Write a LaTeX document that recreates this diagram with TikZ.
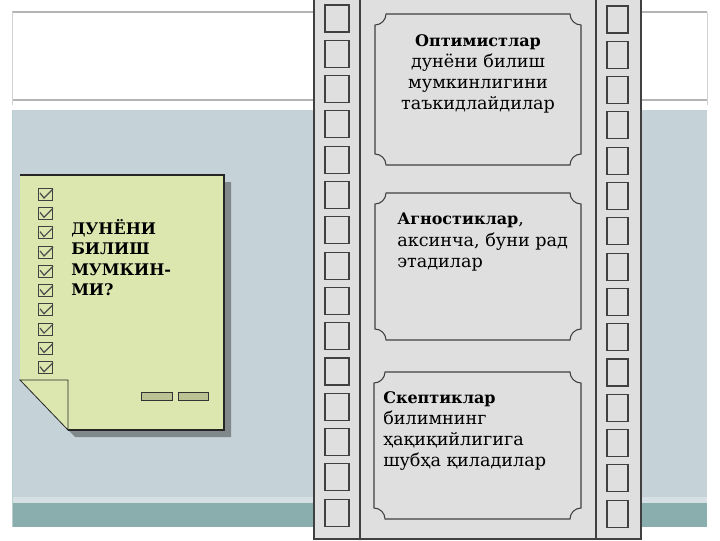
\documentclass[tikz,border=0pt]{standalone}
\usepackage{fontspec}
\setmainfont{DejaVu Serif}
\definecolor{slidebg}{HTML}{C5D2D8}
\definecolor{slideband}{HTML}{8AAEAD}
\definecolor{slideline}{HTML}{B4B4B4}
\definecolor{paper}{HTML}{DCE6AF}
\definecolor{filmgray}{HTML}{DFDFDF}
\definecolor{filmline}{HTML}{404040}
\newcommand\myplaque[4]{%
  \draw[plaquebox] (#1+11,#2) -- (#3-11,#2)
    .. controls (#3-11,#2+6) and (#3-6,#2+11) .. (#3,#2+11)
    -- (#3,#4-11)
    .. controls (#3-6,#4-11) and (#3-11,#4-6) .. (#3-11,#4)
    -- (#1+11,#4)
    .. controls (#1+11,#4-6) and (#1+6,#4-11) .. (#1,#4-11)
    -- (#1,#2+11)
    .. controls (#1+6,#2+11) and (#1+11,#2+6) .. cycle;}
\newcommand\bt[1]{{\fontsize{12}{15.8}\selectfont\bfseries #1}}
\begin{document}
\begin{tikzpicture}[x=0.75pt,y=-0.75pt,
  perf/.style={draw=filmline, fill=filmgray, line width=0.8pt},
  plaquebox/.style={draw=filmline, fill=filmgray, line width=0.8pt},
  chkbox/.style={draw=black!75, line width=0.5pt, fill=paper},
  chkmark/.style={draw=black!70, line width=0.9pt},
  boxtext/.style={font=\fontsize{13.2}{15.8}\selectfont, inner sep=0pt},
  titletext/.style={font=\bfseries\fontsize{12}{15.4}\selectfont, inner sep=0pt, align=left, anchor=north west}]
\useasboundingbox (0,0) rectangle (720,540);
\fill[white] (0,0) rectangle (720,540);
% slide background
\fill[slidebg] (12,110) rectangle (707,497);
\fill[slidebg!70!white] (12,497) rectangle (707,503);
\fill[slideband] (12,503) rectangle (707,527);
\draw[slideline, line width=0.8pt] (12,12) -- (707,12);
\draw[slideline, line width=0.8pt] (12,100) -- (707,100);
\draw[slideline!60, line width=0.6pt] (12,12) -- (12,105);
\draw[slideline!60, line width=0.6pt] (707,12) -- (707,105);
\draw[slideband!60, line width=0.6pt] (12,110) -- (12,527);
% paper note with shadow
\fill[black, opacity=0.35] (27,182) -- (231,182) -- (231,437) -- (75,437) -- (27,387) -- cycle;
\fill[paper] (20,175) -- (224,175) -- (224,430) -- (68,430) -- (20,380) -- cycle;
\draw[black!85, line width=0.8pt] (20,175) -- (224,175) -- (224,430) -- (68,430);
\draw[black!85, line width=0.6pt] (20,380) -- (68,380) -- (68,430) -- cycle;
\foreach \i in {0,...,9}{
  \draw[chkbox] (38,188+\i*19.3) rectangle (52,200+\i*19.3);
  \draw[chkmark] (40,193+\i*19.3) -- (44,198+\i*19.3) -- (53,189+\i*19.3);
}
\node[titletext] (title) at (71,219) {ДУНЁНИ\\БИЛИШ\\МУМКИН-\\МИ?};
\draw[black!80, fill=paper!85!black, line width=0.7pt] (141,392) rectangle (172,400);
\draw[black!80, fill=paper!85!black, line width=0.7pt] (178,392) rectangle (208,400);
% film strip
\draw[filmline, fill=filmgray, line width=0.9pt] (314,-2) rectangle (641,539);
\draw[filmline, line width=0.9pt] (360,-2) -- (360,539);
\draw[filmline, line width=0.9pt] (596,-2) -- (596,539);
\foreach \k in {0,...,14}{
  \draw[perf] (325,5+\k*35.3) rectangle (349,32+\k*35.3);
  \draw[perf] (607,6+\k*35.3) rectangle (628,33+\k*35.3);
}
\myplaque{375}{14}{581}{165}
\myplaque{375}{193}{581}{340}
\myplaque{374}{372}{581}{519}
\node[boxtext, align=center] (opt) at (478,74) {\bt{Оптимистлар}\\дунёни билиш\\мумкинлигини\\таъкидлайдилар};
\node[boxtext, align=left, anchor=north west] (agn) at (397,213) {\bt{Агностиклар},\\аксинча, буни рад\\этадилар};
\node[boxtext, align=left, anchor=north west] (skep) at (383,391) {\bt{Скептиклар}\\билимнинг\\ҳақиқийлигига\\шубҳа қиладилар};
\end{tikzpicture}
\end{document}
